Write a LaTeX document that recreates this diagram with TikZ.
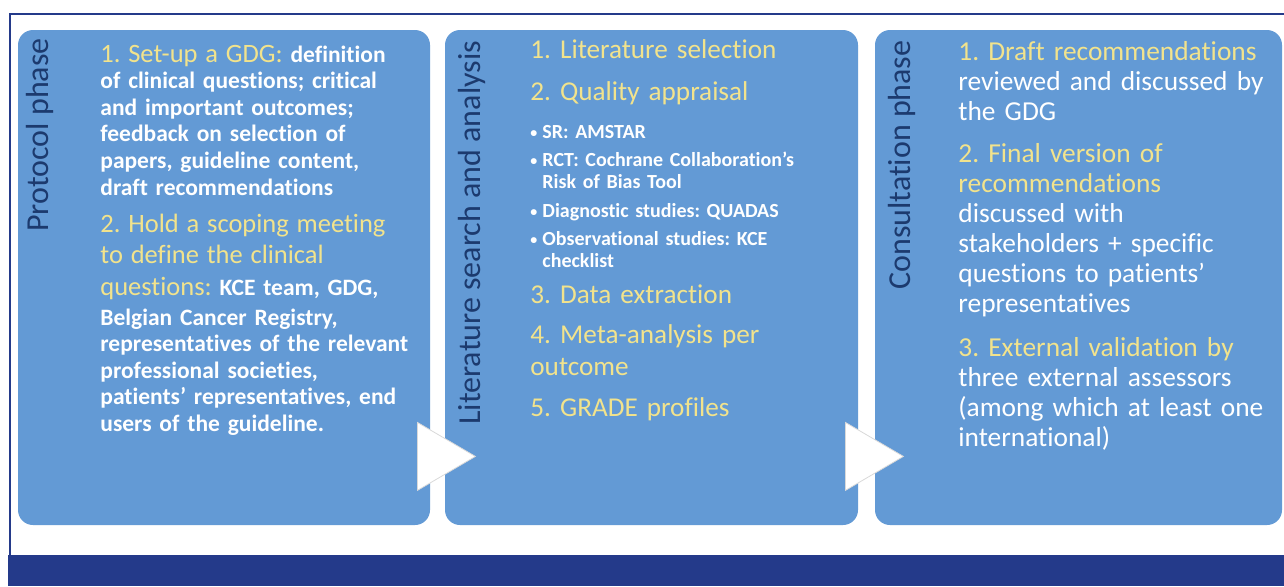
\documentclass[tikz,border=0pt]{standalone}
\usepackage{fontspec}
\setmainfont{Carlito}[RawFeature={-liga;-clig;-calt;-dlig}]
\frenchspacing
\usetikzlibrary{calc}
\definecolor{phasebg}{HTML}{639AD5}
\definecolor{phaseink}{HTML}{1C3A6E}
\definecolor{stepink}{HTML}{F2E38C}
\definecolor{framebl}{HTML}{243A8A}
\newcommand{\stephd}[1]{{\color{stepink}#1}}
\newcommand{\leadin}[1]{{\fontsize{13.25}{13.3}\selectfont\mdseries\color{stepink}#1}}
\newcommand{\bul}{\makebox[6pt][l]{\raisebox{0.5pt}{\scriptsize\textbullet}}}
\tikzset{
  phase/.style={rectangle, fill=phasebg, rounded corners=7.5pt, inner sep=0pt},
  ptitle/.style={rotate=90, anchor=base west, inner sep=0pt, text=phaseink,
    font=\fontsize{16}{18}\selectfont},
  ptext/.style={anchor=base west, inner sep=0pt, text=white, align=left},
  flow/.style={fill=white, draw=black!15, line width=0.4pt}
}

\begin{document}
\begin{tikzpicture}[x=0.5pt, y=-0.5pt]
  \useasboundingbox (0,0) rectangle (1284,586);
  \fill[white] (0,0) rectangle (1284,586);

  % frame and bottom band
  \draw[framebl, line width=1pt] (10,555) |- (1284,14);
  \fill[framebl] (8,555) rectangle (1284,586);

  % the three phases
  \node[phase, minimum width=206pt, minimum height=247.5pt] (P) at (224,277.5) {};
  \node[phase, minimum width=206.5pt, minimum height=247.5pt] (L) at (651.5,277.5) {};
  \node[phase, minimum width=203.5pt, minimum height=247.5pt] (C) at (1078.5,277.5) {};

  % arrows from one phase to the next
  \filldraw[flow] ($(P.south east)+(-13,-35)$) -- ++(0,-68) -- ++(58,34) -- cycle;
  \filldraw[flow] ($(L.south east)+(-13,-35)$) -- ++(0,-68) -- ++(58,34) -- cycle;

  \node[ptitle] (tP) at (48,232) {Protocol phase};
  \node[ptitle] (tL) at (480,425) {Literature search and analysis};
  \node[ptitle] (tC) at (910,290) {Consultation phase};

  % protocol phase
  \node[ptext, text width=170pt, font=\fontsize{11.75}{13.3}\selectfont\bfseries] (p1) at (100,62)
    {\leadin{1. Set-up a GDG:} definition\\
     of clinical questions; critical\\
     and important outcomes;\\
     feedback on selection of\\
     papers, guideline content,\\
     draft recommendations};
  \node[ptext, text width=170pt, font=\fontsize{11.75}{13.3}\selectfont\bfseries] (p2) at (100,232)
    {\leadin{2. Hold a scoping meeting}\\[2.2pt]
     \leadin{to define the clinical}\\[2.7pt]
     \leadin{questions:} KCE team, GDG,\\[1.7pt]
     Belgian Cancer Registry,\\
     representatives of the relevant\\
     professional societies,\\
     patients’ representatives, end\\
     users of the guideline.};

  % literature search and analysis
  \node[ptext, text width=150pt, text=stepink, font=\fontsize{13.6}{21}\selectfont] (l1) at (530,58)
    {1. Literature selection\\
     2. Quality appraisal};
  \node[ptext, text width=150pt, font=\fontsize{10}{11}\selectfont\bfseries] (l2) at (530,138)
    {\bul SR: AMSTAR\\[3.3pt]
     \bul RCT: Cochrane Collaboration’s\\
     \hspace*{6pt}Risk of Bias Tool\\[3.3pt]
     \bul Diagnostic studies: QUADAS\\[3.3pt]
     \bul Observational studies: KCE\\
     \hspace*{6pt}checklist};
  \node[ptext, text width=150pt, text=stepink, font=\fontsize{13.6}{16}\selectfont] (l3) at (530,303)
    {3. Data extraction\\[4pt]
     4. Meta-analysis per\\
     outcome\\[4.5pt]
     5. GRADE profiles};

  % consultation phase
  \node[ptext, text width=165pt, font=\fontsize{13.7}{15}\selectfont] (c1) at (958,60)
    {\stephd{1. Draft recommendations}\\
     reviewed and discussed by\\
     the GDG\\[6pt]
     \stephd{2. Final version of}\\
     \stephd{recommendations}\\
     discussed with\\
     stakeholders + specific\\
     questions to patients’\\
     representatives\\[7pt]
     \stephd{3. External validation by}\\
     three external assessors\\
     (among which at least one\\
     international)};
\end{tikzpicture}
\end{document}
